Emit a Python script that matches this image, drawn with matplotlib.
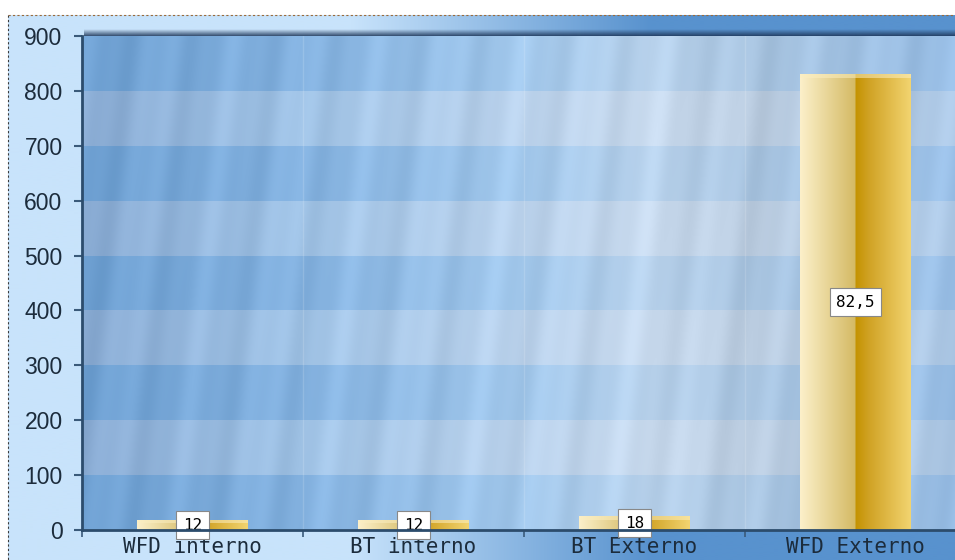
import numpy as np
import matplotlib.pyplot as plt
from matplotlib.lines import Line2D

categories = ['WFD interno', 'BT interno', 'BT Externo', 'WFD Externo']
bar_heights = [18, 18, 25, 830]
bar_labels = ['12', '12', '18', '82,5']
y_ticks = [0, 100, 200, 300, 400, 500, 600, 700, 800, 900]

W_PX, H_PX = 955, 560
fig = plt.figure(figsize=(W_PX / 100, H_PX / 100), dpi=100)
fig.patch.set_facecolor('white')

# outer background, light blue on the left going to mid blue on the right
bg = fig.add_axes([0, 0, 1, 1])
bg.axis('off')
gx = np.arange(8, W_PX)
light = np.array([200, 227, 251]) / 255
mid = np.array([88, 146, 206]) / 255
t = np.clip((gx - 350) / 300, 0, 1)
row = light[None, :] * (1 - t[:, None]) + mid[None, :] * t[:, None]
bg.imshow(np.repeat(row[None, :, :], 2, axis=0), extent=[8, W_PX, H_PX, 15],
          aspect='auto', interpolation='bilinear')
# top shadow above the plot area
sh = np.zeros((8, 2, 4))
sh[:, :, :3] = np.array([30, 55, 90]) / 255
sh[:, :, 3] = np.linspace(0.05, 0.95, 8)[:, None]
bg.imshow(sh, extent=[84, W_PX, 37, 29], aspect='auto', interpolation='bilinear')
# dashed outer frame
bg.add_line(Line2D([8, 8], [15, H_PX], color='#3a3a3a', lw=0.8, ls=(0, (2, 2))))
bg.add_line(Line2D([8, W_PX], [15, 15], color='#9a6a3a', lw=0.8, ls=(0, (2, 2))))
bg.set_xlim(0, W_PX)
bg.set_ylim(H_PX, 0)

ax = fig.add_axes([82 / W_PX, 30 / H_PX, (W_PX - 82) / W_PX, 494 / H_PX])
ax.patch.set_alpha(0)
x0, x1 = -0.5, -0.5 + (W_PX - 82) / 221
ymax = 900

# plot background: horizontal bands + glassy streaks
W, H = 873, 494
px = np.arange(W) + 82
cp = [82, 300, 520, 650, 760, 955]
dark_c = np.array([[110, 160, 210], [132, 178, 224], [162, 200, 236],
                   [184, 210, 236], [168, 196, 224], [152, 190, 230]])
light_c = np.array([[138, 172, 212], [160, 195, 230], [186, 210, 236],
                    [200, 218, 238], [186, 204, 224], [172, 200, 230]])
dark_row = np.stack([np.interp(px, cp, dark_c[:, k]) for k in range(3)], axis=1)
light_row = np.stack([np.interp(px, cp, light_c[:, k]) for k in range(3)], axis=1)
rows = np.arange(H)
yv = ymax * (1 - (rows + 0.5) / H)
is_dark = (np.floor(yv / 100) % 2 == 0)
img = np.where(is_dark[:, None, None], dark_row[None], light_row[None])
xx = px[None, :] + 0.12 * rows[:, None]
streak = 6 * np.sin(2 * np.pi * xx / 72) + 3 * np.sin(2 * np.pi * xx / 29 + 1.3)
img = np.clip(img + streak[:, :, None], 0, 255) / 255
ax.imshow(img, extent=[x0, x1, 0, ymax], aspect='auto', zorder=0,
          interpolation='bilinear')
for b in [0.5, 1.5, 2.5]:
    ax.axvline(b, color='white', alpha=0.15, lw=1, zorder=1)

# gold cylinder bars
xpos = np.arange(len(categories))
bars = ax.bar(xpos, bar_heights, width=0.5, facecolor='none', edgecolor='none', zorder=3)
tt = np.linspace(0, 1, 200)
stops_l = ([0, 0.5], [[252, 240, 202], [212, 186, 100]])
stops_r = ([0.5, 0.62, 1.0], [[196, 146, 0], [208, 162, 36], [242, 212, 112]])
grad = np.zeros((1, len(tt), 3))
for k in range(3):
    left = np.interp(tt, stops_l[0], [c[k] for c in stops_l[1]])
    right = np.interp(tt, stops_r[0], [c[k] for c in stops_r[1]])
    grad[0, :, k] = np.where(tt < 0.5, left, right) / 255
for p in bars.patches:
    bx, bw, bh = p.get_x(), p.get_width(), p.get_height()
    im = ax.imshow(grad, extent=[bx, bx + bw, 0, bh], aspect='auto', zorder=3,
                   interpolation='bilinear')
    im.set_clip_path(p)
    cap = min(6, bh * 0.35)
    ax.fill_between([bx, bx + bw], bh - cap, bh, color='#fbeec0', alpha=0.55,
                    zorder=4, lw=0)

for xi, h, lab in zip(xpos, bar_heights, bar_labels):
    ax.text(xi, h / 2, lab, ha='center', va='center', fontsize=11.5,
            family='DejaVu Sans Mono', color='black', zorder=6,
            bbox=dict(boxstyle='square,pad=0.4', fc='white', ec='#888888', lw=0.8))

ax.set_xlim(x0, x1)
ax.set_ylim(0, ymax)
ax.set_yticks(y_ticks)
ax.set_yticklabels([str(v) for v in y_ticks], family='Liberation Sans',
                   fontsize=16.5, color='#1c2c3c')
ax.set_xticks(xpos)
ax.set_xticklabels(categories, family='DejaVu Sans Mono', fontsize=15, color='#1c2c3c')
ax.set_xticks([-0.5, 0.5, 1.5, 2.5], minor=True)
ax.tick_params(axis='x', which='major', length=0, pad=5)
ax.tick_params(axis='x', which='minor', length=5, width=1.2, color='#3a5a7a')
ax.tick_params(axis='y', length=6, width=1.5, color='#3a5a7a', pad=8)
for s in ['top', 'right']:
    ax.spines[s].set_visible(False)
for s in ['left', 'bottom']:
    ax.spines[s].set_color('#2c4c6c')
    ax.spines[s].set_linewidth(2)
    ax.spines[s].set_zorder(7)

fig.savefig('out.png', dpi=100)
